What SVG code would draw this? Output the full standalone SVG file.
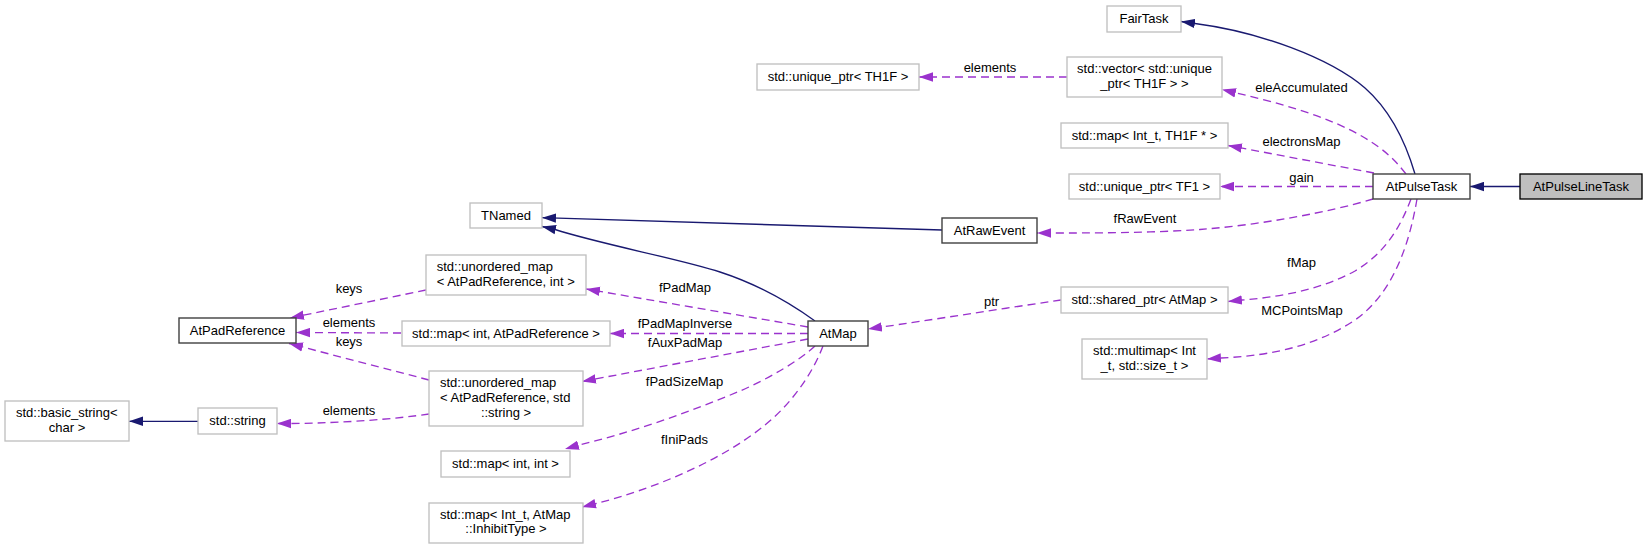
<svg xmlns="http://www.w3.org/2000/svg" width="1648" height="549" viewBox="0 0 1648 549">
<style>
text{font-family:"Liberation Sans",Arial,sans-serif;font-size:13px;fill:#000}
.c{text-anchor:middle}
.ext{fill:#fff;stroke:#bfbfbf;stroke-width:1.33}
.doc{fill:#fff;stroke:#404040;stroke-width:1.4}
.cur{fill:#bfbfbf;stroke:#000;stroke-width:1.33}
.inh{fill:none;stroke:#191970;stroke-width:1.33;marker-end:url(#aN)}
.use{fill:none;stroke:#9a32cd;stroke-width:1.33;stroke-dasharray:8,5;marker-end:url(#aP)}
</style>
<defs>
<marker id="aN" viewBox="0 0 14 10" refX="14" refY="5" markerWidth="14" markerHeight="10" markerUnits="userSpaceOnUse" orient="auto">
<path d="M0,0.3 L14,5 L0,9.7 Z" fill="#191970" stroke="none"/>
</marker>
<marker id="aP" viewBox="0 0 14 10" refX="14" refY="5" markerWidth="14" markerHeight="10" markerUnits="userSpaceOnUse" orient="auto">
<path d="M0,0.3 L14,5 L0,9.7 Z" fill="#9a32cd" stroke="none"/>
</marker>
</defs>
<rect width="1648" height="549" fill="#fff"/>
<g id="edges">
<path class="inh" d="M1520,186.5 L1470,186.5"/>
<path class="inh" d="M1415,174 C1405,140 1390,110 1365,88 C1330,58 1260,32 1195,23.5 L1181,21.5"/>
<path class="inh" d="M942,230 L542,217.7"/>
<path class="inh" d="M815,321 C790,303 760,285 720,272 C680,259 600,244 555,229.5 L542,226.5"/>
<path class="inh" d="M198,421.3 L129,421.3"/>
<path class="use" d="M1067,77 L919,77"/>
<path class="use" d="M1406,174 C1395,160 1385,150 1365,138 C1330,117 1280,103 1236,93 L1222,89.5"/>
<path class="use" d="M1374,173 L1228,145.5"/>
<path class="use" d="M1373,186.5 L1220,186.5"/>
<path class="use" d="M1373,199 C1330,212 1260,225 1200,229.5 C1150,233 1090,233 1051,233 L1037,233"/>
<path class="use" d="M1411,199 C1400,228 1385,253 1355,271 C1320,290 1280,297 1242,300 L1228,301.5"/>
<path class="use" d="M1417,199 C1410,240 1395,292 1355,320 C1310,350 1260,356 1221,358 L1207,359"/>
<path class="use" d="M1061,300 C1000,309 930,320 882,327 L868,329"/>
<path class="use" d="M808,327 L586,289"/>
<path class="use" d="M808,333.5 L610,333.5"/>
<path class="use" d="M808,339 L582,381.5"/>
<path class="use" d="M815,346 C800,360 770,378 740,391 C690,412 630,433 579,445 L565,449"/>
<path class="use" d="M823,346 C812,375 790,405 765,425 C720,462 650,490 596,503.5 L582,507"/>
<path class="use" d="M426,290 L290,318"/>
<path class="use" d="M401,333 L296,332.5"/>
<path class="use" d="M429,380 L289,343.5"/>
<path class="use" d="M429,414 C395,419 345,423 291,423.5 L277,423.5"/>
<text class="c" x="990" y="72">elements</text>
<text class="c" x="1301.5" y="92">eleAccumulated</text>
<text class="c" x="1301.5" y="146">electronsMap</text>
<text class="c" x="1301.5" y="181.5">gain</text>
<text class="c" x="1145" y="223">fRawEvent</text>
<text class="c" x="1301.5" y="267">fMap</text>
<text class="c" x="1302" y="315">MCPointsMap</text>
<text class="c" x="991.5" y="306">ptr</text>
<text class="c" x="685" y="292">fPadMap</text>
<text class="c" x="685" y="328">fPadMapInverse</text>
<text class="c" x="685" y="347">fAuxPadMap</text>
<text class="c" x="684.5" y="385.5">fPadSizeMap</text>
<text class="c" x="684.5" y="443.5">fIniPads</text>
<text class="c" x="349" y="293">keys</text>
<text class="c" x="349" y="326.5">elements</text>
<text class="c" x="349" y="345.5">keys</text>
<text class="c" x="349" y="414.5">elements</text>
</g>
<g id="AtPulseLineTask"><rect class="cur" x="1520" y="174" width="122" height="25"/><text class="c" x="1581" y="191">AtPulseLineTask</text></g>
<g id="AtPulseTask"><rect class="doc" x="1373" y="174" width="97" height="25"/><text class="c" x="1421.5" y="191">AtPulseTask</text></g>
<g id="FairTask"><rect class="ext" x="1107" y="6" width="74" height="26"/><text class="c" x="1144" y="22.5">FairTask</text></g>
<g id="vector_unique_ptr_TH1F"><rect class="ext" x="1067" y="57" width="155" height="40"/><text class="c" x="1144.5" y="73">std::vector&lt; std::unique</text><text class="c" x="1144.5" y="88">_ptr&lt; TH1F &gt; &gt;</text></g>
<g id="unique_ptr_TH1F"><rect class="ext" x="757" y="64" width="162" height="26"/><text class="c" x="838" y="81">std::unique_ptr&lt; TH1F &gt;</text></g>
<g id="map_Int_t_TH1F"><rect class="ext" x="1061" y="123" width="167" height="25"/><text class="c" x="1144.5" y="140">std::map&lt; Int_t, TH1F * &gt;</text></g>
<g id="unique_ptr_TF1"><rect class="ext" x="1069" y="174" width="151" height="25"/><text class="c" x="1144.5" y="191">std::unique_ptr&lt; TF1 &gt;</text></g>
<g id="AtRawEvent"><rect class="doc" x="942" y="218" width="95" height="25"/><text class="c" x="989.5" y="235">AtRawEvent</text></g>
<g id="shared_ptr_AtMap"><rect class="ext" x="1061" y="287" width="167" height="26"/><text class="c" x="1144.5" y="304">std::shared_ptr&lt; AtMap &gt;</text></g>
<g id="multimap_Int_t_size_t"><rect class="ext" x="1082" y="339" width="125" height="40"/><text class="c" x="1144.5" y="354.5">std::multimap&lt; Int</text><text class="c" x="1144.5" y="369.5">_t, std::size_t &gt;</text></g>
<g id="TNamed"><rect class="ext" x="470" y="203" width="72" height="25"/><text class="c" x="506" y="219.5">TNamed</text></g>
<g id="AtMap"><rect class="doc" x="808" y="321" width="60" height="25"/><text class="c" x="838" y="337.5">AtMap</text></g>
<g id="unordered_map_AtPadReference_int"><rect class="ext" x="426" y="255" width="160" height="40"/><text x="436.7" y="270.5">std::unordered_map</text><text x="436.7" y="285.5">&lt; AtPadReference, int &gt;</text></g>
<g id="map_int_AtPadReference"><rect class="ext" x="402" y="321" width="208" height="25"/><text class="c" x="506" y="337.5">std::map&lt; int, AtPadReference &gt;</text></g>
<g id="unordered_map_AtPadReference_string"><rect class="ext" x="429" y="371" width="154" height="55"/><text x="440" y="386.5">std::unordered_map</text><text x="440" y="401.5">&lt; AtPadReference, std</text><text class="c" x="506" y="416.5">::string &gt;</text></g>
<g id="map_int_int"><rect class="ext" x="441" y="451" width="129" height="26"/><text class="c" x="505.5" y="468">std::map&lt; int, int &gt;</text></g>
<g id="map_Int_t_InhibitType"><rect class="ext" x="429" y="503" width="154" height="40"/><text x="440" y="518.5">std::map&lt; Int_t, AtMap</text><text class="c" x="506" y="533">::InhibitType &gt;</text></g>
<g id="AtPadReference"><rect class="doc" x="179" y="318" width="117" height="25"/><text class="c" x="237.5" y="334.5">AtPadReference</text></g>
<g id="std_string"><rect class="ext" x="198" y="408" width="79" height="26"/><text class="c" x="237.5" y="425">std::string</text></g>
<g id="basic_string_char"><rect class="ext" x="5" y="401" width="124" height="40"/><text x="16" y="416.5">std::basic_string&lt;</text><text class="c" x="67" y="432">char &gt;</text></g>
</svg>
